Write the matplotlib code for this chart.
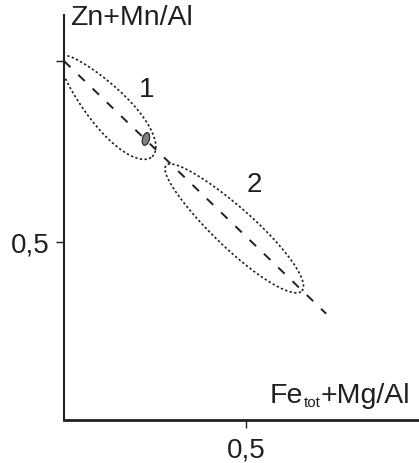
import numpy as np
import matplotlib
matplotlib.use('Agg')
import matplotlib.pyplot as plt
from matplotlib.patches import Ellipse

plt.rcParams['font.family'] = ['Liberation Sans', 'DejaVu Sans']

ink = '#231f20'

# trend line x + y = 1
line_x = [0.0, 0.72]
line_y = [1.0, 0.30]

# field outlines: centre, half length, half width, angle (deg), taper
field_names = ['1', '2']
field_cx = [0.117, 0.467]
field_cy = [0.874, 0.537]
field_a = [0.187, 0.255]
field_b = [0.056, 0.055]
field_ang = [-48, -43]
field_taper = [0.25, 0.08]
label_x = [0.228, 0.522]
label_y = [0.922, 0.659]

# single analysis point
pt_x, pt_y = 0.225, 0.784

xticks = [0.5]
xticklabels = ['0,5']
yticks = [0.5, 1.0]
yticklabels = ['0,5', '']


def egg(cx, cy, a, b, ang, k):
    t = np.linspace(0, 2 * np.pi, 200)
    s = a * np.cos(t)
    w = b * np.sin(t) * (1 + k * np.cos(t))
    r = np.deg2rad(ang)
    x = cx + s * np.cos(r) - w * np.sin(r)
    y = cy + s * np.sin(r) + w * np.cos(r)
    return x, y


fig = plt.figure(figsize=(4.19, 4.64), dpi=100)
ax = fig.add_axes([64 / 419, 43 / 464, 355 / 419, 405 / 464])
ax.set_xlim(0, 0.975)
ax.set_ylim(0.0055, 1.1275)

ax.spines['top'].set_visible(False)
ax.spines['right'].set_visible(False)
ax.spines['left'].set_linewidth(1.5)
ax.spines['bottom'].set_linewidth(2.0)
ax.spines['left'].set_color(ink)
ax.spines['bottom'].set_color(ink)

ax.plot(line_x, line_y, color=ink, lw=1.4, linestyle=(0, (4.6, 5.6)))

for i in range(len(field_names)):
    ex, ey = egg(field_cx[i], field_cy[i], field_a[i], field_b[i],
                 field_ang[i], field_taper[i])
    ax.plot(ex, ey, color=ink, lw=1.2, linestyle=(0, (1.4, 1.4)))
    ax.text(label_x[i], label_y[i], field_names[i], fontsize=20,
            color=ink, ha='center', va='center')

ax.add_patch(Ellipse((pt_x, pt_y), 0.019, 0.036, angle=-15,
                     facecolor='#808080', edgecolor=ink, lw=0.8))

ax.set_xticks(xticks)
ax.set_xticklabels(xticklabels)
ax.set_yticks(yticks)
ax.set_yticklabels(yticklabels)
ax.tick_params(axis='x', length=6, width=1, pad=6, labelsize=20, colors=ink)
ax.tick_params(axis='y', length=6, width=1, pad=4, labelsize=20, colors=ink)

fig.text(70 / 419, 1 - 25 / 464, 'Zn+Mn/Al', fontsize=20.5, color=ink,
         ha='left', va='baseline')

# x axis title built from pieces so the subscript stays small
renderer = fig.canvas.get_renderer()
t1 = fig.text(270 / 419, 1 - 403 / 464, 'Fe', fontsize=20.5, color=ink,
              ha='left', va='baseline')
x1 = t1.get_window_extent(renderer).x1
t2 = fig.text(x1 / 419 + 0.002, 1 - 407 / 464, 'tot', fontsize=11, color=ink,
              ha='left', va='baseline')
x2 = t2.get_window_extent(renderer).x1
fig.text(x2 / 419, 1 - 403 / 464, '+Mg/Al', fontsize=20.5, color=ink,
         ha='left', va='baseline')

fig.savefig('out.png', dpi=100)
